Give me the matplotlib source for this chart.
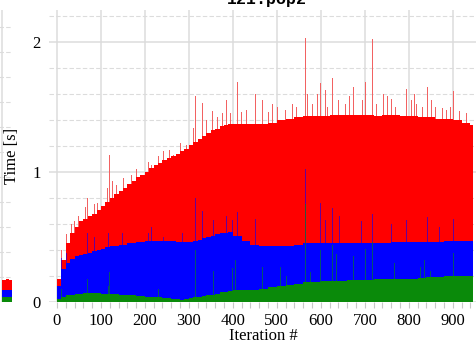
import numpy as np
import matplotlib
matplotlib.use("Agg")
import matplotlib.pyplot as plt
from matplotlib.ticker import MultipleLocator

# ---- per-iteration timings, averaged over blocks of 10 / 20 iterations ----
block_start = [0, 10, 20, 30, 40, 50, 60, 70, 80, 90, 100, 110, 120, 130, 140, 150,
               160, 170, 180, 190, 200, 210, 220, 230, 240, 250, 260, 270, 280, 290,
               300, 310, 320, 330, 340, 350, 360, 370, 380, 390,
               400, 420, 440, 460, 480, 500, 520, 540, 560, 580, 600, 620, 640, 660,
               680, 700, 720, 740, 760, 780, 800, 820, 840, 860, 880, 900, 920, 940]
last_iteration = 945

total_time = [0.18, 0.32, 0.45, 0.53, 0.58, 0.62, 0.64, 0.66, 0.68, 0.71, 0.74, 0.77,
              0.80, 0.83, 0.85, 0.88, 0.91, 0.93, 0.96, 0.98, 1.00, 1.03, 1.05, 1.07,
              1.09, 1.11, 1.12, 1.14, 1.16, 1.18, 1.21, 1.23, 1.25, 1.28, 1.30, 1.32,
              1.33, 1.35, 1.36, 1.37,
              1.37, 1.37, 1.37, 1.37, 1.38, 1.40, 1.41, 1.42, 1.43, 1.43, 1.43, 1.44,
              1.44, 1.44, 1.44, 1.44, 1.43, 1.44, 1.44, 1.43, 1.43, 1.42, 1.42, 1.41,
              1.41, 1.40, 1.38, 1.36]

blue_time = [0.12, 0.25, 0.30, 0.33, 0.35, 0.36, 0.37, 0.38, 0.39, 0.40, 0.41, 0.42,
             0.43, 0.43, 0.44, 0.44, 0.45, 0.45, 0.46, 0.46, 0.47, 0.47, 0.47, 0.47,
             0.47, 0.47, 0.47, 0.46, 0.46, 0.46, 0.46, 0.47, 0.48, 0.49, 0.50, 0.51,
             0.52, 0.53, 0.53, 0.54,
             0.51, 0.47, 0.44, 0.43, 0.43, 0.43, 0.43, 0.44, 0.45, 0.45, 0.45, 0.45,
             0.45, 0.45, 0.45, 0.45, 0.45, 0.45, 0.46, 0.46, 0.46, 0.46, 0.46, 0.46,
             0.47, 0.47, 0.47, 0.47]

green_time = [0.02, 0.04, 0.05, 0.055, 0.06, 0.065, 0.07, 0.07, 0.07, 0.07, 0.065, 0.065,
              0.06, 0.06, 0.055, 0.055, 0.05, 0.05, 0.045, 0.045, 0.04, 0.04, 0.035, 0.035,
              0.03, 0.03, 0.02, 0.02, 0.015, 0.02, 0.03, 0.035, 0.04, 0.045, 0.05, 0.055,
              0.065, 0.075, 0.08, 0.085,
              0.09, 0.09, 0.095, 0.10, 0.115, 0.12, 0.13, 0.14, 0.15, 0.155, 0.16, 0.165,
              0.165, 0.17, 0.17, 0.17, 0.175, 0.175, 0.175, 0.175, 0.18, 0.185, 0.19, 0.19,
              0.20, 0.20, 0.20, 0.20]

# ---- individual slow iterations ----
red_spike_iter = [11, 22, 32, 40, 48, 64, 70, 84, 92, 102, 114, 120, 125, 135, 150, 170,
                  180, 207, 215, 230, 241, 255, 264, 280, 295, 309, 314, 330, 340, 354,
                  365, 375, 386, 395, 411, 420, 430, 443, 452, 466, 480, 490, 502, 520,
                  535, 545, 564, 570, 580, 591, 598, 609, 615, 625, 640, 655, 665, 673,
                  684, 695, 702, 716, 725, 741, 750, 760, 770, 784, 795, 805, 812, 818,
                  830, 841, 850, 860, 875, 885, 895, 902, 915, 930]
red_spike_val = [0.40, 0.52, 0.60, 0.62, 0.66, 0.73, 0.80, 0.75, 0.76, 0.91, 0.88, 1.13,
                 0.93, 0.90, 0.95, 0.98, 1.02, 1.08, 1.05, 1.12, 1.16, 1.17, 1.13, 1.22,
                 1.21, 1.34, 1.58, 1.53, 1.40, 1.47, 1.42, 1.45, 1.55, 1.45, 1.69, 1.46,
                 1.48, 1.65, 1.60, 1.55, 1.46, 1.52, 1.50, 1.48, 1.52, 1.50, 2.03, 1.60,
                 1.52, 1.60, 1.68, 1.63, 1.50, 1.72, 1.55, 1.52, 1.58, 1.65, 1.68, 1.55,
                 1.69, 2.02, 1.52, 1.60, 1.58, 1.56, 1.50, 1.62, 1.64, 1.55, 1.60, 1.52,
                 1.50, 1.65, 1.55, 1.50, 1.49, 1.48, 1.50, 1.62, 1.47, 1.45]

blue_spike_iter = [11, 22, 70, 84, 102, 116, 148, 207, 215, 241, 284, 314, 330, 355,
                   386, 398, 411, 443, 452, 564, 598, 609, 625, 643, 693, 716, 760, 795,
                   841, 870, 902]
blue_spike_val = [0.34, 0.38, 0.53, 0.50, 0.56, 0.53, 0.53, 0.53, 0.58, 0.50, 0.53, 0.80,
                  0.70, 0.63, 0.66, 0.63, 0.69, 0.69, 0.64, 1.02, 0.76, 0.63, 0.72, 0.66,
                  0.62, 0.68, 0.60, 0.63, 0.65, 0.58, 0.64]

green_spike_iter = [11, 70, 102, 116, 120, 230, 314, 355, 398, 405, 443, 466, 507, 522,
                    564, 575, 598, 625, 634, 673, 700, 716, 766, 825, 836, 848, 900]
green_spike_val = [0.10, 0.18, 0.16, 0.12, 0.23, 0.10, 0.40, 0.24, 0.26, 0.32, 0.42, 0.27,
                   0.27, 0.20, 0.75, 0.23, 0.40, 0.44, 0.37, 0.35, 0.41, 0.46, 0.30, 0.27,
                   0.32, 0.24, 0.38]

# neighbouring panel (only its last iterations are in view)
left_iter = [0, 1, 2]
left_total = [0.90, 0.92, 0.88]
left_blue = [0.48, 0.50, 0.47]
left_green = [0.20, 0.21, 0.20]

RED, BLUE, GREEN = "#ff0000", "#0000ff", "#0a8a0a"
GRID = "#dcdcdc"
SERIF = ["Liberation Serif", "DejaVu Serif"]
FS = 12

W, H = 477, 345
fig = plt.figure(figsize=(W / 100, H / 100), dpi=100)


def style_axes(ax):
    for s in ax.spines.values():
        s.set_visible(False)
    ax.set_axisbelow(True)
    ax.grid(True, which="major", color=GRID, lw=1.1, ls="-")
    ax.grid(True, which="minor", axis="y", color=GRID, lw=0.8, ls=(0, (4, 2)))


# ---- neighbouring panel, right edge only ----
axl = fig.add_axes([-0.40, (H - 302) / H, 0.40 + 12 / W, 292 / H])
style_axes(axl)
axl.patch.set_visible(False)
axl.bar(left_iter, left_total, width=1.0, align="edge", color=RED, linewidth=0)
axl.bar(left_iter, left_blue, width=1.0, align="edge", color=BLUE, linewidth=0)
axl.bar(left_iter, left_green, width=1.0, align="edge", color=GREEN, linewidth=0)
axl.set_xlim(-60, 3)
axl.set_ylim(0, 11.68)
axl.xaxis.set_major_locator(MultipleLocator(1000))
axl.yaxis.set_major_locator(MultipleLocator(5))
axl.yaxis.set_minor_locator(MultipleLocator(1))
axl.grid(True, which="major", axis="x")
axl.grid(True, which="major", axis="y", color=GRID, lw=0.8, ls=(0, (4, 2)))
axl.tick_params(which="both", length=0, labelleft=False, labelbottom=False)

# ---- main panel ----
ax = fig.add_axes([49 / W, (H - 302) / H, (W - 49) / W, 292 / H])
style_axes(ax)
ax.patch.set_visible(False)

edges = np.array(block_start + [last_iteration], dtype=float)


def blocks(values, color, z):
    ax.stairs(values, edges, fill=True, color=color, linewidth=0, zorder=z)


def spikes(it, values, color, z, alpha=1.0):
    ax.bar(np.array(it) + 0.5, values, width=2.2, color=color, alpha=alpha,
           linewidth=0, zorder=z)


# slow iterations sit behind the block fills; only their tips show
spikes(red_spike_iter, red_spike_val, "#f26262", 1.9)
blocks(total_time, RED, 2)
blocks(blue_time, BLUE, 3)
spikes(blue_spike_iter, blue_spike_val, BLUE, 3.1, 0.6)
blocks(green_time, GREEN, 4)
spikes(green_spike_iter, green_spike_val, GREEN, 4.1, 0.6)

ax.set_xlim(-18, 955)
ax.set_ylim(0, 2.245)
ax.xaxis.set_major_locator(MultipleLocator(100))
ax.xaxis.set_minor_locator(MultipleLocator(20))
ax.yaxis.set_major_locator(MultipleLocator(1))
ax.yaxis.set_minor_locator(MultipleLocator(0.2))
ax.tick_params(axis="x", which="both", direction="out", color="#c8c8c8",
               length=4, width=0.8, pad=4, labelsize=FS)
ax.tick_params(axis="y", which="both", length=0, pad=6, labelsize=FS)
for lab in ax.get_xticklabels() + ax.get_yticklabels():
    lab.set_fontfamily(SERIF)

ax.set_xlabel("Iteration #", family=SERIF, fontsize=FS, labelpad=-1)
ax.set_ylabel("Time [s]", family=SERIF, fontsize=FS, labelpad=9)

fig.text(267 / W, (H - 4) / H, "121.pop2", ha="center", va="baseline",
         family=["Liberation Mono", "DejaVu Sans Mono"], fontsize=12,
         fontweight="bold")

fig.savefig("out.png", dpi=100)
